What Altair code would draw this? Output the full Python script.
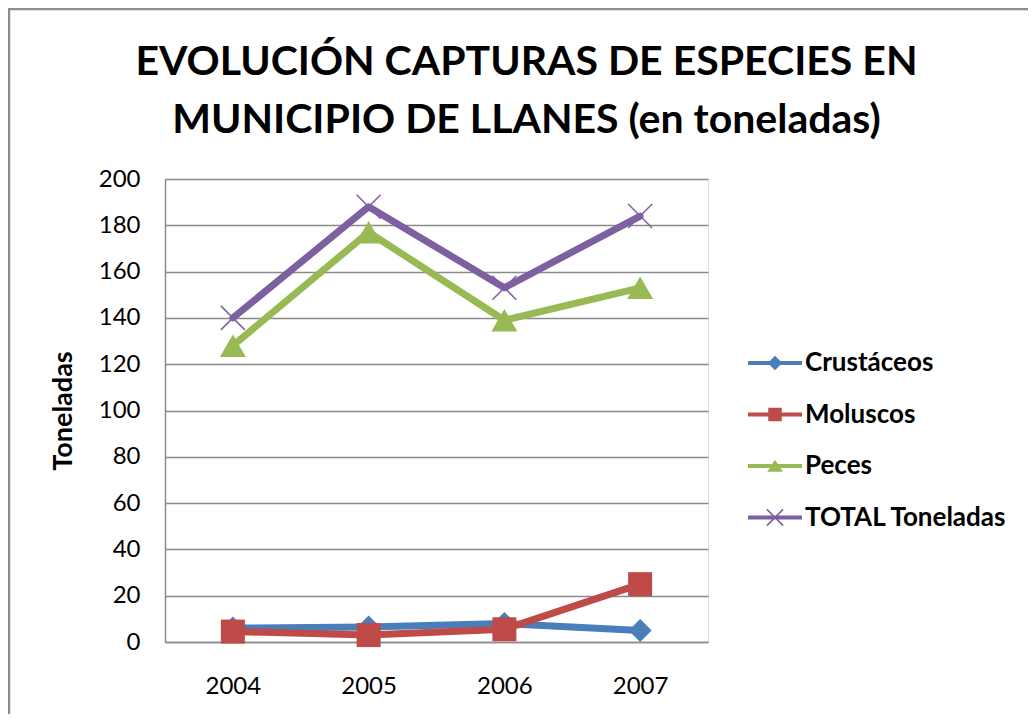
import altair as alt
import pandas as pd

# ---- data ----
years = ["2004", "2005", "2006", "2007"]
crustaceos = [6.0, 6.5, 8.0, 5.0]
moluscos = [4.5, 3.0, 5.5, 25.0]
peces = [128, 177, 139, 153]
total = [140, 188, 153, 184]

series_names = ["Crustáceos", "Moluscos", "Peces", "TOTAL Toneladas"]
series_colors = ["#4A7EBB", "#BE4B48", "#98B954", "#7D60A0"]
y_ticks = [0, 20, 40, 60, 80, 100, 120, 140, 160, 180, 200]

title_lines = ["EVOLUCIÓN CAPTURAS DE ESPECIES EN", "MUNICIPIO DE LLANES (en toneladas)"]

rows = []
for name, vals in zip(series_names, [crustaceos, moluscos, peces, total]):
    for yr, v in zip(years, vals):
        rows.append({"Año": yr, "Serie": name, "Toneladas": v})
df = pd.DataFrame(rows)

W, H = 543, 463
FONT = "Lato"

x_enc = alt.X(
    "Año:O",
    scale=alt.Scale(type="point", padding=0.5),
    axis=alt.Axis(title=None, labelAngle=0, ticks=False, tickSize=0, labelPadding=32,
                  labelFont=FONT, labelFontSize=24, labelColor="#000000",
                  domainColor="#8C8C8C", domainWidth=1.5, grid=False),
)
y_enc = alt.Y(
    "Toneladas:Q",
    scale=alt.Scale(domain=[0, 200], nice=False),
    axis=alt.Axis(values=y_ticks, title="Toneladas", ticks=False, tickSize=0, labelPadding=25,
                  labelFont=FONT, labelFontSize=24, labelColor="#000000",
                  titleFont=FONT, titleFontSize=27, titleFontWeight="bold", titleColor="#000000",
                  titlePadding=21, domainColor="#8C8C8C", domainWidth=1.5,
                  grid=True, gridColor="#8A8A8A", gridWidth=1.3),
)

marker_specs = {
    "Crustáceos": dict(shape="diamond", size=529, filled=True),
    "Moluscos": dict(shape="square", size=576, filled=True),
    "Peces": dict(shape="triangle-up", size=676, filled=True),
    "TOTAL Toneladas": dict(shape="M-1,-1L1,1M-1,1L1,-1", size=576, filled=False, strokeWidth=1.5),
}

layers = []
for name, col in zip(series_names, series_colors):
    base = alt.Chart(df).transform_filter(alt.datum.Serie == name)
    line = base.mark_line(color=col, strokeWidth=7, strokeJoin="round", strokeCap="round").encode(
        x=x_enc, y=y_enc)
    spec = marker_specs[name]
    pts = base.mark_point(color=col, opacity=1, **spec).encode(x=x_enc, y=y_enc)
    layers += [line, pts]

# legend symbols: thick line + marker (unit box = 27 px half-size)
L = "M-1,-0.074H1V0.074H-1Z"
a, d = 0.3, 0.02
xpath = (f"M{-a+d},{-a-d}L{a+d},{a-d}L{a-d},{a+d}L{-a-d},{-a+d}Z"
         f"M{-a-d},{a-d}L{a-d},{-a-d}L{a+d},{-a+d}L{-a+d},{a+d}Z")
legend_paths = [
    L + "M0,-0.27L0.27,0L0,0.27L-0.27,0Z",
    L + "M-0.25,-0.25H0.25V0.25H-0.25Z",
    L + "M0,-0.23L0.29,0.21H-0.29Z",
    L + xpath,
]

legend_layer = alt.Chart(df).transform_filter("false").mark_point(filled=True, opacity=1).encode(
    x=x_enc, y=y_enc,
    color=alt.Color("Serie:N", scale=alt.Scale(domain=series_names, range=series_colors),
                    legend=alt.Legend(title=None, orient="none", legendX=582, legendY=156,
                                      symbolSize=2916, labelFont=FONT, labelFontSize=26,
                                      labelFontWeight="bold", labelColor="#000000",
                                      labelLimit=400, rowPadding=10.5, labelOffset=2,
                                      symbolOpacity=1)),
    shape=alt.Shape("Serie:N", scale=alt.Scale(domain=series_names, range=legend_paths)),
)

frame_df = pd.DataFrame({"k": [0]})
frame_left = alt.Chart(frame_df).mark_rule(color="#8C8C8C", strokeWidth=2.5).encode(
    x=alt.value(-156), y=alt.value(-170), y2=alt.value(H + 72))
frame_top = alt.Chart(frame_df).mark_rule(color="#8C8C8C", strokeWidth=2.5).encode(
    x=alt.value(-157), x2=alt.value(W + 320), y=alt.value(-170))

chart = alt.layer(frame_left, frame_top, *layers, legend_layer).properties(
    width=W, height=H,
    title=alt.TitleParams(text=title_lines, font=FONT, fontSize=41, fontWeight="bold",
                          color="#000000", anchor="middle", dx=90, offset=-134, lineHeight=58),
    autosize=alt.AutoSizeParams(type="none"),
    padding={"left": 157, "top": 171, "right": 320, "bottom": 72},
).configure_view(stroke=None, fill="#E5E5E5").configure(background="#FFFFFF")

chart.save("out.html", embed_options={"renderer": "svg", "actions": False})
